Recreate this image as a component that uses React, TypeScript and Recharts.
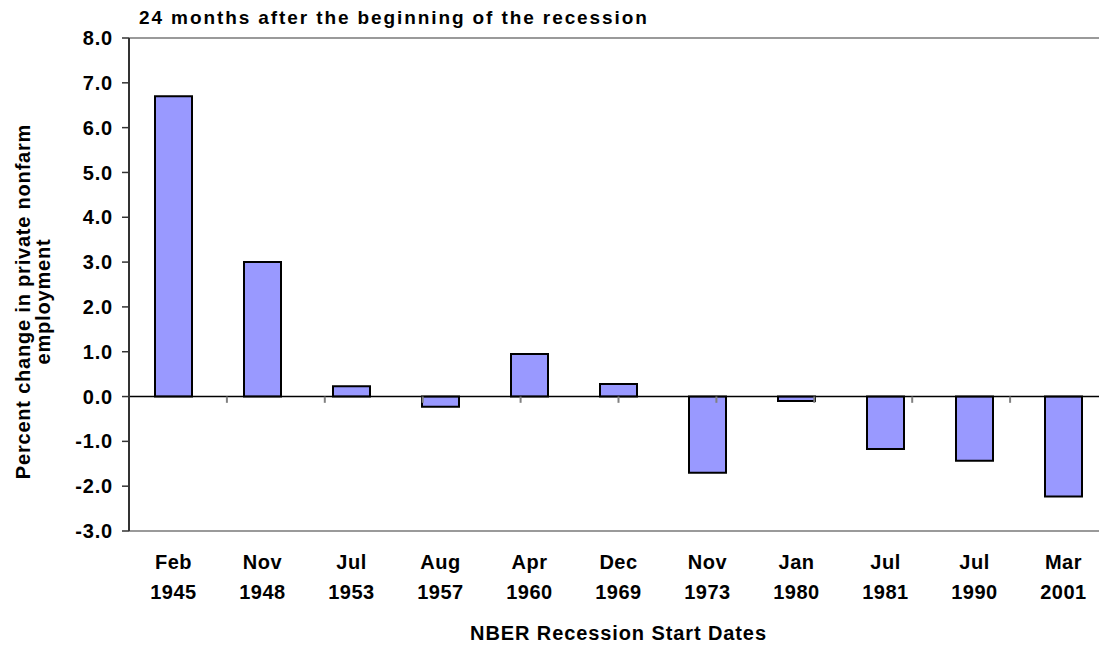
import { Bar, BarChart, ReferenceLine, XAxis, YAxis } from "recharts";

const months = ["Feb", "Nov", "Jul", "Aug", "Apr", "Dec", "Nov", "Jan", "Jul", "Jul", "Mar"];
const years = ["1945", "1948", "1953", "1957", "1960", "1969", "1973", "1980", "1981", "1990", "2001"];
const changes = [6.7, 3.0, 0.23, -0.23, 0.95, 0.28, -1.7, -0.1, -1.17, -1.43, -2.23];
const yTicks = [-3, -2, -1, 0, 1, 2, 3, 4, 5, 6, 7, 8];
const boundaries = [1, 2, 3, 4, 5, 6, 7, 8, 9, 10];

const FONT = "'Liberation Sans', Arial, sans-serif";

const data = months.map((m, i) => ({ label: `${m} ${years[i]}`, value: changes[i] }));

// two-line category label: month over year
const DateTick = ({ x, y, payload }: { x?: number; y?: number; payload?: { value: string } }) => {
  const [mon, yr] = (payload?.value ?? "").split(" ");
  return (
    <text x={x} y={y} textAnchor="middle" fill="#000" fontSize={20} fontWeight="bold" fontFamily={FONT} letterSpacing={0.5}>
      <tspan x={x} dy={38}>{mon}</tspan>
      <tspan x={x} dy={30}>{yr}</tspan>
    </text>
  );
};

const YTitle = ({ viewBox }: { viewBox?: { x: number; y: number; width: number; height: number } }) => {
  if (!viewBox) return null;
  const cy = viewBox.y + viewBox.height / 2 + 17;
  return (
    <text
      transform={`translate(0, ${cy}) rotate(-90)`}
      textAnchor="middle"
      fill="#000"
      fontSize={20}
      fontWeight="bold"
      fontFamily={FONT}
      letterSpacing={0.8}
    >
      <tspan x={0} y={30}>Percent change in private nonfarm</tspan>
      <tspan x={0} y={50}>employment</tspan>
    </text>
  );
};

const XTitle = ({ viewBox }: { viewBox?: { x: number; y: number; width: number; height: number } }) => {
  if (!viewBox) return null;
  return (
    <text
      x={viewBox.x + viewBox.width / 2}
      y={viewBox.y + 109}
      textAnchor="middle"
      fill="#000"
      fontSize={20}
      fontWeight="bold"
      fontFamily={FONT}
      letterSpacing={0.9}
    >
      NBER Recession Start Dates
    </text>
  );
};

export default function App() {
  return (
    <div style={{ position: "absolute", left: 0, top: 0, width: 1099, height: 646, overflow: "hidden", background: "#fff" }}>
      <div
        style={{
          position: "absolute",
          left: 139,
          top: 7,
          fontFamily: FONT,
          fontSize: 19,
          lineHeight: "21px",
          fontWeight: "bold",
          letterSpacing: 1.9,
          whiteSpace: "nowrap",
          zIndex: 1,
        }}
      >
        24 months after the beginning of the recession
      </div>
      <BarChart width={1108} height={646} data={data} margin={{ top: 38, right: 0, bottom: 0, left: 0 }}>
        <XAxis
          dataKey="label"
          height={115}
          axisLine={false}
          tickLine={false}
          tickSize={0}
          tickMargin={0}
          interval={0}
          tick={<DateTick />}
          label={<XTitle />}
        />
        <XAxis xAxisId="num" type="number" domain={[0, 11]} hide />
        <YAxis
          width={129}
          domain={[-3, 8]}
          ticks={yTicks}
          interval={0}
          tickSize={7}
          tickMargin={9}
          tickFormatter={(v: number) => v.toFixed(1)}
          axisLine={{ stroke: "#333", strokeWidth: 2 }}
          tickLine={{ stroke: "#333", strokeWidth: 1.5 }}
          tick={{ fill: "#000", fontSize: 20, fontWeight: "bold", fontFamily: FONT, letterSpacing: 0.8 }}
          label={<YTitle />}
        />
        <ReferenceLine y={8} stroke="#9a9a9a" strokeWidth={2} />
        <ReferenceLine y={-3} stroke="#9a9a9a" strokeWidth={2} />
        <Bar dataKey="value" fill="#9999ff" stroke="#000" strokeWidth={2} barSize={37} isAnimationActive={false} />
        <ReferenceLine y={0} stroke="#000" strokeWidth={1.5} />
        {boundaries.map((b) => (
          <ReferenceLine
            key={b}
            xAxisId="num"
            segment={[
              { x: b, y: 0 },
              { x: b, y: -0.14 },
            ]}
            stroke="#808080"
            strokeWidth={2}
          />
        ))}
      </BarChart>
    </div>
  );
}
